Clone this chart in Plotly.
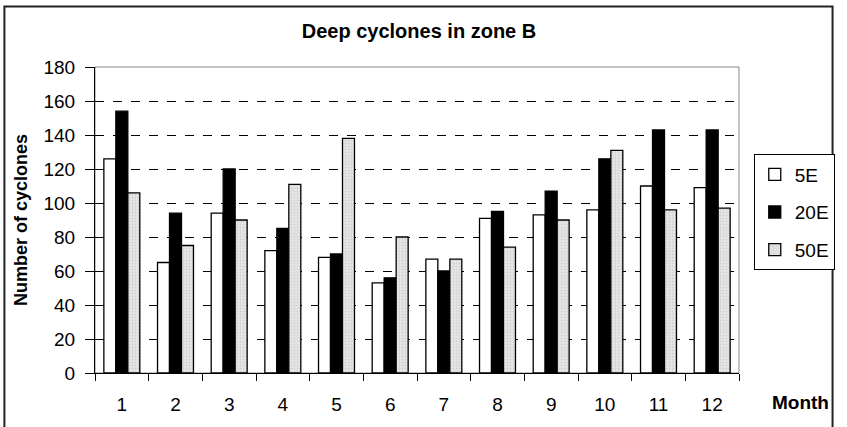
import plotly.graph_objects as go

months = ["1", "2", "3", "4", "5", "6", "7", "8", "9", "10", "11", "12"]
s5E = [126, 65, 94, 72, 68, 53, 67, 91, 93, 96, 110, 109]
s20E = [154, 94, 120, 85, 70, 56, 60, 95, 107, 126, 143, 143]
s50E = [106, 75, 90, 111, 138, 80, 67, 74, 90, 131, 96, 97]
y_ticks = [0, 20, 40, 60, 80, 100, 120, 140, 160, 180]

W, H = 847, 427
L, R, T, B = 95, 98, 67, 52
pw, ph = W - L - R, H - T - B

def px_x(x):
    return (x - L) / pw

def px_y(y):
    return (H - B - y) / ph

FONT = "Liberation Sans, Arial, sans-serif"

styles = [
    ("5E", s5E, dict(color="#ffffff")),
    ("20E", s20E, dict(color="#000000")),
    ("50E", s50E, dict(color="#e2e2e2",
                       pattern=dict(shape=".", fgcolor="#b8b8b8", bgcolor="#e6e6e6", size=3, solidity=0.3))),
]

fig = go.Figure()
for i, (name, vals, mk) in enumerate(styles):
    fig.add_trace(go.Bar(x=months, y=vals, name=name, legendgroup=f"g{i}",
                         marker=dict(**mk, line=dict(color="#000000", width=1.3))))

fig.update_layout(
    width=W, height=H,
    margin=dict(l=L, r=R, t=T, b=B),
    paper_bgcolor="white", plot_bgcolor="white",
    barmode="group", bargap=0.33, bargroupgap=0,
    font=dict(family=FONT, size=19, color="#000"),
    title=dict(text="<b>Deep cyclones in zone B</b>", x=px_x(424), xref="paper", xanchor="center",
               y=1 - 31 / H, yanchor="middle", font=dict(size=20, family=FONT)),
    showlegend=True,
    legend=dict(x=px_x(764), y=px_y(155), xanchor="left", yanchor="top",
                bordercolor="#000", borderwidth=1, bgcolor="white",
                font=dict(size=19, family=FONT), tracegroupgap=10, itemwidth=30),
    xaxis=dict(showline=True, linecolor="#000", linewidth=1, ticks="outside", ticklen=7, tickcolor="#000",
               tickson="boundaries", showgrid=False, tickfont=dict(size=19), ticklabelstandoff=14,
               fixedrange=True),
    yaxis=dict(range=[0, 180], tickvals=y_ticks, showline=True, linecolor="#000", linewidth=1,
               ticks="outside", ticklen=9, tickcolor="#000", showgrid=True, gridcolor="#000",
               griddash="dash", gridwidth=1, zeroline=False, tickfont=dict(size=19), ticklabelstandoff=6,
               title=dict(text="<b>Number of cyclones</b>", font=dict(size=18), standoff=11)),
    shapes=[
        dict(type="rect", xref="paper", yref="paper", x0=0, x1=1, y0=0, y1=1,
             line=dict(color="#888", width=1), layer="below"),
        dict(type="rect", xref="paper", yref="paper", x0=px_x(3), x1=px_x(844), y0=px_y(432), y1=px_y(6),
             line=dict(color="#222", width=2)),
    ],
    annotations=[
        dict(text="<b>Month</b>", xref="paper", yref="paper", x=px_x(811), y=px_y(405),
             xanchor="center", yanchor="middle", showarrow=False, font=dict(size=19)),
    ],
)

fig.write_html("out.html")
